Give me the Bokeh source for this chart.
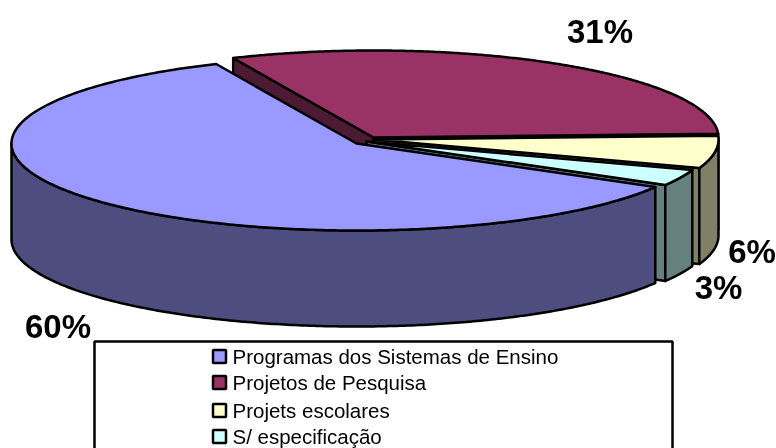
import numpy as np
from bokeh.plotting import figure
from bokeh.models import Range1d
from bokeh.core.properties import value
from bokeh.embed import file_html
from bokeh.resources import INLINE

categories = ["Programas dos Sistemas de Ensino", "Projetos de Pesquisa", "Projets escolares", "S/ especificação"]
values = [60, 31, 6, 3]
pct_labels = ["60%", "31%", "6%", "3%"]
top_colors = ["#9999FF", "#993366", "#FFFFCC", "#CCFFFF"]
side_colors = ["#4D4D80", "#4D1A33", "#808066", "#668080"]

W, H = 776, 448
RX, RY, DEPTH = 345, 87, 96
START = 114.0
centers = {0: (356, 143), 1: (373, 137), 2: (373, 139), 3: (366, 141)}
label_pos = [(57.5, 326), (599.5, 31), (751.5, 251), (718, 287)]
legend_y = [356, 382, 410, 436]

p = figure(width=W, height=H, output_backend="svg", toolbar_location=None,
           x_range=Range1d(0, W), y_range=Range1d(H, 0), min_border=0,
           outline_line_color=None, background_fill_color="white")
p.axis.visible = False
p.grid.visible = False
p.styles = {"position": "fixed", "left": "0", "top": "0"}


def rim(cx, cy, a):
    r = np.radians(a)
    return cx + RX * np.cos(r), cy - RY * np.sin(r)


def draw(xs, ys, color):
    p.patch(list(xs), list(ys), fill_color=color, line_color="black", line_width=2.5, line_join="round")


total = sum(values)
order = [1, 2, 3, 0]
bounds = {}
a = START
for i in order:
    b = a - values[i] / total * 360
    bounds[i] = (a, b)
    a = b

for i in order:
    a0, a1 = bounds[i]
    cx, cy = centers[i]
    # cut faces that can be seen
    cuts = {0: [], 1: [a0, a1], 2: [a1], 3: [a1]}[i]
    for edge in cuts:
        ex, ey = rim(cx, cy, edge)
        draw([cx, ex, ex, cx], [cy, ey, ey + DEPTH, cy + DEPTH], side_colors[i])
    # outer wall: the part of the rim that faces the viewer
    hi, lo = min(a0, 0), max(a1, -180)
    if hi > lo:
        t = np.linspace(hi, lo, 240)
        wx, wy = rim(cx, cy, t)
        draw(np.r_[wx, wx[::-1]], np.r_[wy, wy[::-1] + DEPTH], side_colors[i])
    # top face
    t = np.linspace(a0, a1, 300)
    tx, ty = rim(cx, cy, t)
    draw(np.r_[cx, tx], np.r_[cy, ty], top_colors[i])

p.text(x=[q[0] for q in label_pos], y=[q[1] for q in label_pos], text=pct_labels,
       text_font=value("Liberation Sans"), text_font_style="bold", text_font_size="33px",
       text_align="center", text_baseline="middle", text_color="black")

p.patch([94, 672, 672, 94], [341, 341, 470, 470], fill_color="white", line_color="black", line_width=2.5)
p.rect(x=[219] * 4, y=legend_y, width=13, height=13, fill_color=top_colors, line_color="black", line_width=2.5)
p.text(x=[232] * 4, y=legend_y, text=categories, text_font=value("Liberation Sans"),
       text_font_size="20.5px", text_baseline="middle", text_color="black")

open("out.html", "w").write(file_html(p, INLINE))
